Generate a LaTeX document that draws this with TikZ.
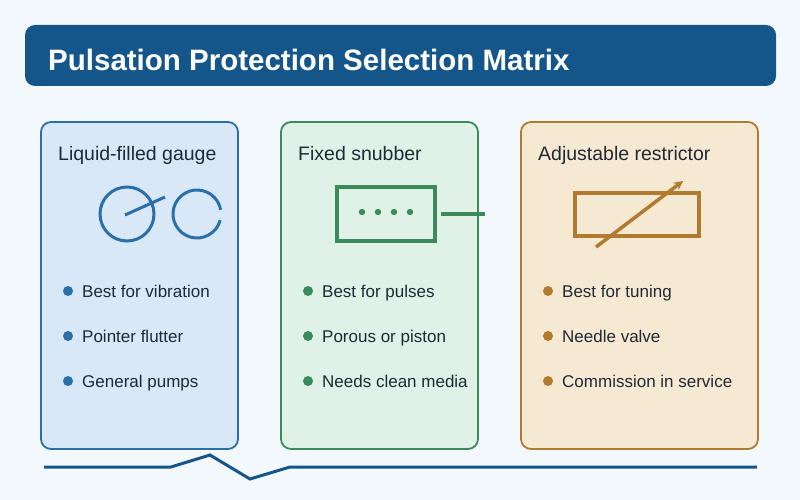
\documentclass[tikz,border=0pt]{standalone}
\usepackage{fontspec}
\setmainfont{Liberation Sans}
\usetikzlibrary{arrows.meta}
\definecolor{bg}{HTML}{F3F8FC}
\definecolor{navy}{HTML}{15568A}
\definecolor{bl}{HTML}{2A6FA8}\definecolor{blf}{HTML}{D8E8F6}
\definecolor{gr}{HTML}{3A8A5A}\definecolor{grf}{HTML}{E0F1E7}
\definecolor{or}{HTML}{B07A30}\definecolor{orf}{HTML}{F6E9D2}
\definecolor{txt}{HTML}{1F2A36}
\begin{document}
\begin{tikzpicture}[x=1pt,y=-1pt,
 panel/.style={draw=#1,line width=1.8pt,rounded corners=10pt},
 head/.style={anchor=base west,font=\fontsize{19.5}{22}\selectfont,text=txt,inner sep=0},
 item/.style={anchor=base west,font=\fontsize{17}{20}\selectfont,text=txt,inner sep=0},
 dot/.style={circle,fill=#1,inner sep=0,minimum size=10pt}]
\useasboundingbox (0,0) rectangle (800,500);
\fill[bg] (0,0) rectangle (800,500);
\fill[navy,rounded corners=10pt] (25,25) rectangle (776,86);
\node[anchor=base west,text=white,font=\bfseries\fontsize{29.5}{34}\selectfont,inner sep=0] (title) at (48,71) {Pulsation Protection Selection Matrix};
% panels
\draw[panel=bl,fill=blf] (41,122) rectangle (238,449);
\draw[panel=gr,fill=grf] (281,122) rectangle (478,449);
\draw[panel=or,fill=orf] (521,122) rectangle (758,449);
\node[head] (h1) at (58,160) {Liquid-filled gauge};
\node[head] (h2) at (298,160) {Fixed snubber};
\node[head] (h3) at (538,160) {Adjustable restrictor};
% icons
\draw[bl,line width=3pt] (127,214) circle (27);
\draw[bl,line width=3pt] (125,215) -- (165,197);
\draw[bl,line width=3pt] (197,214)++(15:24) arc (15:350:24);
\draw[gr,line width=3.5pt] (337,187) rectangle (435,241);
\foreach \x in {362,378,394,410} \fill[gr] (\x,212) circle (3.2);
\draw[gr,line width=3.5pt] (441,214) -- (485,214);
\draw[or,line width=3.5pt] (575,193) rectangle (699,236);
\draw[or,line width=3.5pt,-{Stealth[length=9pt,width=9pt]}] (596,247) -- (683,181);
% bullets
\foreach \c/\x/\a/\b/\d in {bl/68/Best for vibration/Pointer flutter/General pumps,
  gr/308/Best for pulses/Porous or piston/Needs clean media,
  or/548/Best for tuning/Needle valve/Commission in service}{
  \node[dot=\c] at (\x,291) {}; \node[item] at (\x+14,297) {\a};
  \node[dot=\c] at (\x,336) {}; \node[item] at (\x+14,342) {\b};
  \node[dot=\c] at (\x,381) {}; \node[item] at (\x+14,387) {\d};}
\draw[navy,line width=3pt] (44,467) -- (171,467) -- (210,455) -- (250,479) -- (290,467) -- (757,467);
\end{tikzpicture}
\end{document}
